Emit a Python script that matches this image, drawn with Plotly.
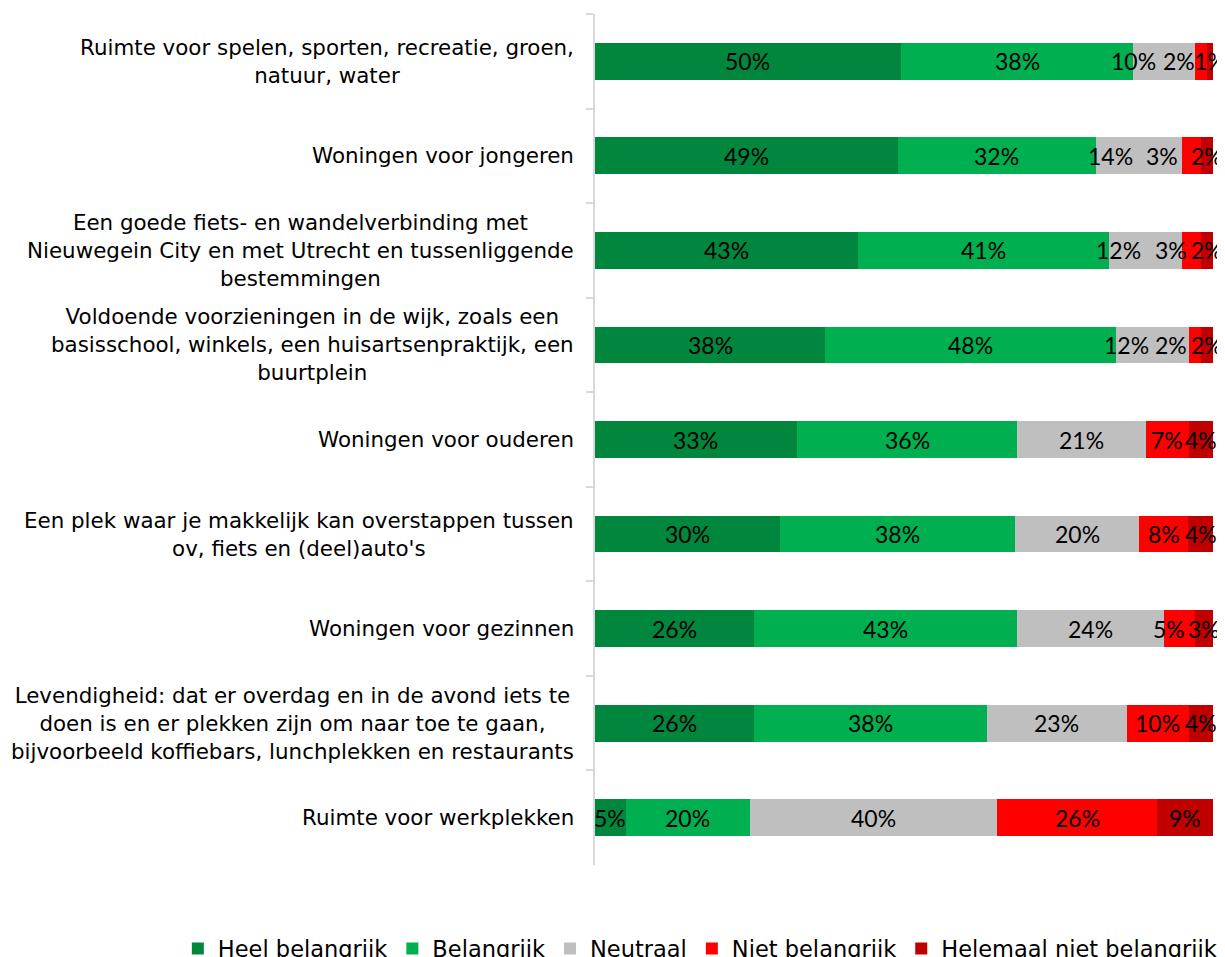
import plotly.graph_objects as go

categories = [
    "Ruimte voor spelen, sporten, recreatie, groen,<br>natuur, water",
    "Woningen voor jongeren",
    "Een goede fiets- en wandelverbinding met<br>Nieuwegein City en met Utrecht en tussenliggende<br>bestemmingen",
    "Voldoende voorzieningen in de wijk, zoals een<br>basisschool, winkels, een huisartsenpraktijk, een<br>buurtplein",
    "Woningen voor ouderen",
    "Een plek waar je makkelijk kan overstappen tussen<br>ov, fiets en (deel)auto's",
    "Woningen voor gezinnen",
    "Levendigheid: dat er overdag en in de avond iets te<br>doen is en er plekken zijn om naar toe te gaan,<br>bijvoorbeeld koffiebars, lunchplekken en restaurants",
    "Ruimte voor werkplekken",
]

series_names = ["Heel belangrijk", "Belangrijk", "Neutraal", "Niet belangrijk", "Helemaal niet belangrijk"]

heel_belangrijk = [50, 49, 43, 38, 33, 30, 26, 26, 5]
belangrijk = [38, 32, 41, 48, 36, 38, 43, 38, 20]
neutraal = [10, 14, 12, 12, 21, 20, 24, 23, 40]
niet_belangrijk = [2, 3, 3, 2, 7, 8, 5, 10, 26]
helemaal_niet = [1, 2, 2, 2, 4, 4, 3, 4, 9]

series_values = [heel_belangrijk, belangrijk, neutraal, niet_belangrijk, helemaal_niet]
colors = ["#00873D", "#00B050", "#BFBFBF", "#FF0000", "#C00000"]

# label nudges (pixels), style only: (series index, row index) -> xshift
label_nudge = {
    (2, 0): -31, (3, 0): -22,
    (2, 1): -28, (3, 1): -29,
    (2, 2): -27, (3, 2): -21,
    (2, 3): -26, (3, 3): -24,
    (3, 6): -10,
}

fig = go.Figure()
for name, vals, col in zip(series_names, series_values, colors):
    fig.add_trace(go.Bar(
        y=categories, x=vals, name=name, orientation="h",
        marker=dict(color=col, line=dict(width=0)),
        hoverinfo="skip",
    ))

annotations = []
# data labels positioned at normalized segment centres
for j, cat in enumerate(categories):
    row = [s[j] for s in series_values]
    total = sum(row)
    cum = 0
    for i, v in enumerate(row):
        centre = (cum + v / 2) / total * 100
        cum += v
        annotations.append(dict(
            x=centre, y=cat, xref="x", yref="y", text=f"{v}%", showarrow=False,
            xanchor="center", yanchor="middle",
            xshift=label_nudge.get((i, j), 0),
            font=dict(family="Lato", size=23, color="black"),
        ))
# category labels (centre-aligned lines, right-aligned block)
for cat in categories:
    annotations.append(dict(
        x=0, y=cat, xref="paper", yref="y", text=cat, showarrow=False,
        xanchor="right", yanchor="middle", align="center", xshift=-19,
        font=dict(family="DejaVu Sans", size=21.4, color="black"),
    ))

fig.update_layout(
    width=1217, height=949,
    margin=dict(l=587, r=12, t=6, b=92, autoexpand=False),
    barmode="stack", barnorm="percent", bargap=0.61,
    plot_bgcolor="white", paper_bgcolor="white",
    xaxis=dict(range=[0, 100], visible=False, fixedrange=True),
    yaxis=dict(
        categoryorder="array", categoryarray=categories, autorange="reversed",
        showticklabels=False, showline=True, linecolor="#D9D9D9", linewidth=2,
        ticks="outside", ticklen=7, tickcolor="#D9D9D9", tickwidth=2,
        tickson="boundaries", showgrid=False, zeroline=False,
    ),
    showlegend=True,
    legend=dict(
        orientation="h", xref="paper", yref="paper",
        x=-0.675, xanchor="left", y=-0.0987, yanchor="middle",
        font=dict(family="DejaVu Sans", size=22.5, color="black"),
        traceorder="normal",
    ),
    annotations=annotations,
)

fig.write_html("out.html")
